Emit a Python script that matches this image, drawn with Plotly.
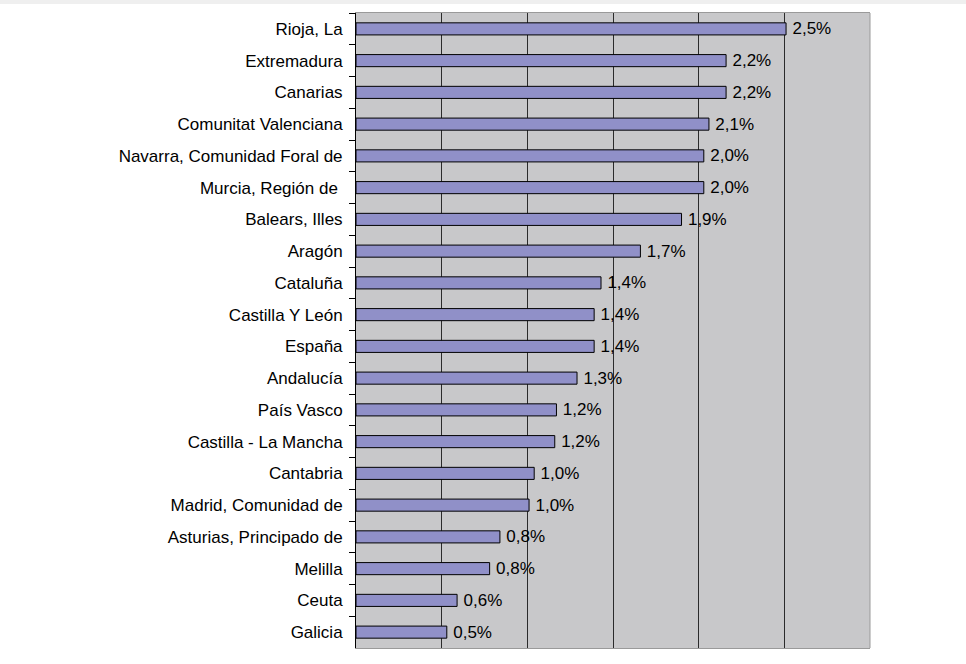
import plotly.graph_objects as go

# Datos (orden de arriba a abajo)
regiones = [
    "Rioja, La", "Extremadura", "Canarias", "Comunitat Valenciana",
    "Navarra, Comunidad Foral de", "Murcia, Región de ", "Balears, Illes",
    "Aragón", "Cataluña", "Castilla Y León", "España", "Andalucía",
    "País Vasco", "Castilla - La Mancha", "Cantabria", "Madrid, Comunidad de",
    "Asturias, Principado de", "Melilla", "Ceuta", "Galicia",
]
valores = [
    2.51, 2.16, 2.16, 2.06, 2.03, 2.03, 1.90, 1.66, 1.43, 1.39,
    1.39, 1.29, 1.17, 1.16, 1.04, 1.01, 0.84, 0.78, 0.59, 0.53,
]
grid_vals = [0.5, 1.0, 1.5, 2.0, 2.5]

FONT = "Liberation Sans, Arial"

fig = go.Figure()
fig.add_trace(go.Bar(
    x=valores,
    y=regiones,
    orientation="h",
    marker=dict(color="#9090C8", line=dict(color="#000000", width=1)),
    texttemplate="\u2009%{x:.1f}%",
    textposition="outside",
    constraintext="none",
    textfont=dict(family=FONT, size=17, color="#000000"),
    cliponaxis=False,
    hoverinfo="skip",
))

fig.update_layout(
    width=966, height=664,
    margin=dict(l=356, r=96, t=13, b=16),
    paper_bgcolor="#FFFFFF",
    plot_bgcolor="#C8C8CA",
    separators=",.",
    bargap=0.62,
    showlegend=False,
    font=dict(family=FONT, size=17, color="#000000"),
    xaxis=dict(
        range=[0, 3.0],
        tickmode="array", tickvals=grid_vals,
        showticklabels=False, ticks="",
        showgrid=True, gridcolor="#2B2B2B", gridwidth=1,
        zeroline=False,
        showline=True, linecolor="#9A9A9A", linewidth=1, mirror=True,
    ),
    yaxis=dict(
        autorange="reversed",
        ticks="outside", tickson="boundaries", ticklen=6,
        tickcolor="#000000", tickwidth=1,
        ticklabelstandoff=9,
        showline=True, linecolor="#000000", linewidth=1,
        showgrid=False, zeroline=False,
        tickfont=dict(family=FONT, size=17, color="#000000"),
    ),
    shapes=[
        # borde derecho del área de trazado
        dict(type="line", xref="paper", yref="paper", x0=1, x1=1, y0=0, y1=1,
             line=dict(color="#9A9A9A", width=1)),
        # franja gris tenue en la parte superior de la imagen
        dict(type="rect", xref="paper", yref="paper", x0=-0.7, x1=1.19,
             y0=1.0142, y1=1.021, fillcolor="#EFEFEF", line=dict(width=0),
             layer="below"),
    ],
)

fig.write_html("out.html", config={"displayModeBar": False},
               post_script="document.body.style.margin='0';")
